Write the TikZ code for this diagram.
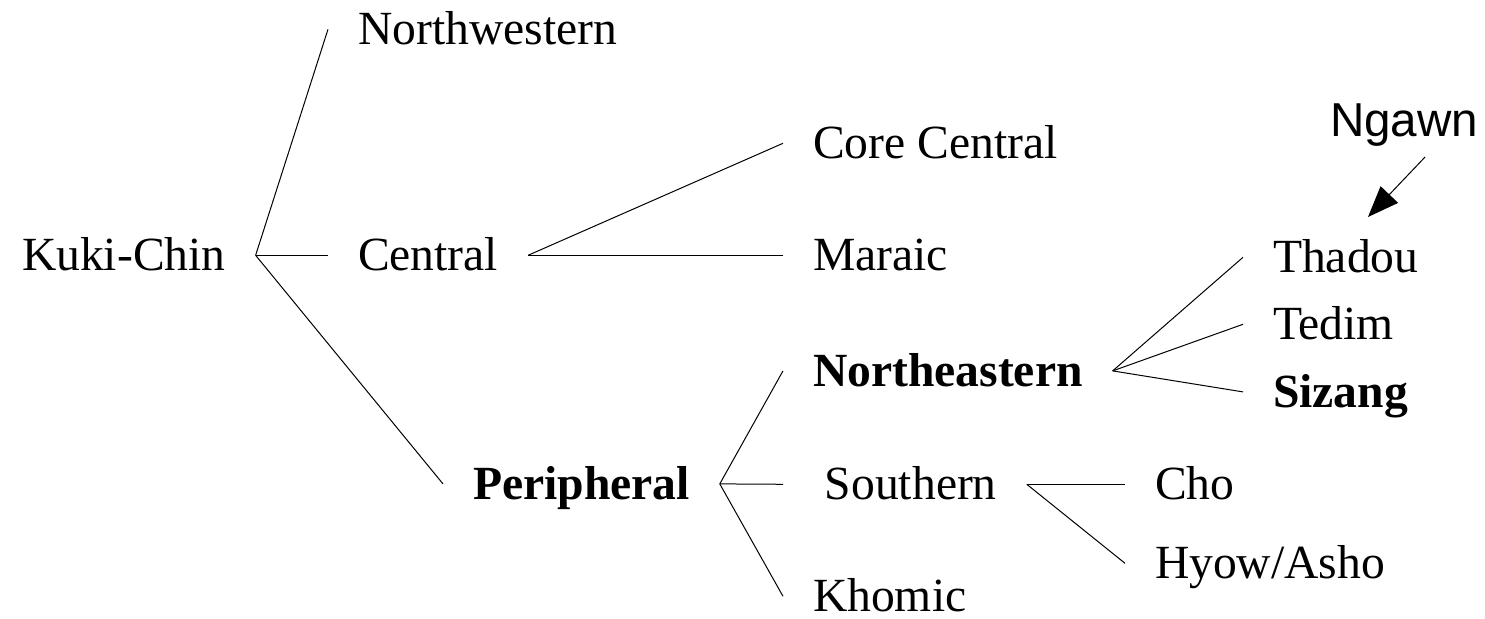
\documentclass[tikz,border=0pt]{standalone}
\usepackage{fontspec}
\setmainfont{Liberation Serif}
\newfontfamily\ngawnfont{Liberation Sans}
\usetikzlibrary{arrows.meta}

\begin{document}
\begin{tikzpicture}[x=0.5pt, y=-0.5pt,
        every node/.style={font=\fontsize{23.8pt}{28pt}\selectfont, inner xsep=15pt, inner ysep=0pt, outer sep=0pt, text height=15.7pt, text depth=0pt, anchor=base west},
        strong/.style={font=\fontsize{23.8pt}{28pt}\selectfont\bfseries, text height=16.1pt},
        branch/.style={line width=0.5pt}]
            \useasboundingbox (0,0) rectangle (1485,619);

            % first level
            \node (kukichin) at (-8,271) {Kuki-Chin};
            \node (northwestern) at (328,45) {Northwestern};
            \node (central) at (328,271) {Central};
            \node[strong] (peripheral) at (443,500) {Peripheral};

            % Central
            \node (corecentral) at (783,159) {Core Central};
            \node (maraic) at (783,271) {Maraic};

            % Peripheral
            \node[strong] (northeastern) at (783,387) {Northeastern};
            \node (southern) at (783,500) {\ Southern};
            \node (khomic) at (783,612) {Khomic};

            \node (thadou) at (1243,273) {Thadou};
            \node (tedim) at (1243,340) {Tedim};
            \node[strong] (sizang) at (1243,408) {Sizang};
            \node (cho) at (1125,500) {Cho};
            \node (hyow) at (1125,579) {Hyow/Asho};

            \node[font=\fontsize{23.8pt}{28pt}\selectfont\ngawnfont, inner xsep=0pt] (ngawn) at (1330,137) {Ngawn};
            \coordinate (ngawntip) at (1368,217);

            \draw[branch] (kukichin.east) -- (northwestern.west);
            \draw[branch] (kukichin.east) -- (central.west);
            \draw[branch] (kukichin.east) -- (peripheral.west);
            \draw[branch] (central.east) -- (corecentral.west);
            \draw[branch] (central.east) -- (maraic.west);
            \draw[branch] (peripheral.east) -- (northeastern.west);
            \draw[branch] (peripheral.east) -- (southern.west);
            \draw[branch] (peripheral.east) -- (khomic.west);
            \draw[branch] (northeastern.east) -- (thadou.west);
            \draw[branch] (northeastern.east) -- (tedim.west);
            \draw[branch] (northeastern.east) -- (sizang.west);
            \draw[branch] (southern.east) -- (cho.west);
            \draw[branch] (southern.east) -- (hyow.west);

            \draw[branch, -{Triangle[length=15.5pt, width=12pt]}] ([shift={(21,20)}]ngawn.south) -- (ngawntip);
        \end{tikzpicture}
\end{document}
